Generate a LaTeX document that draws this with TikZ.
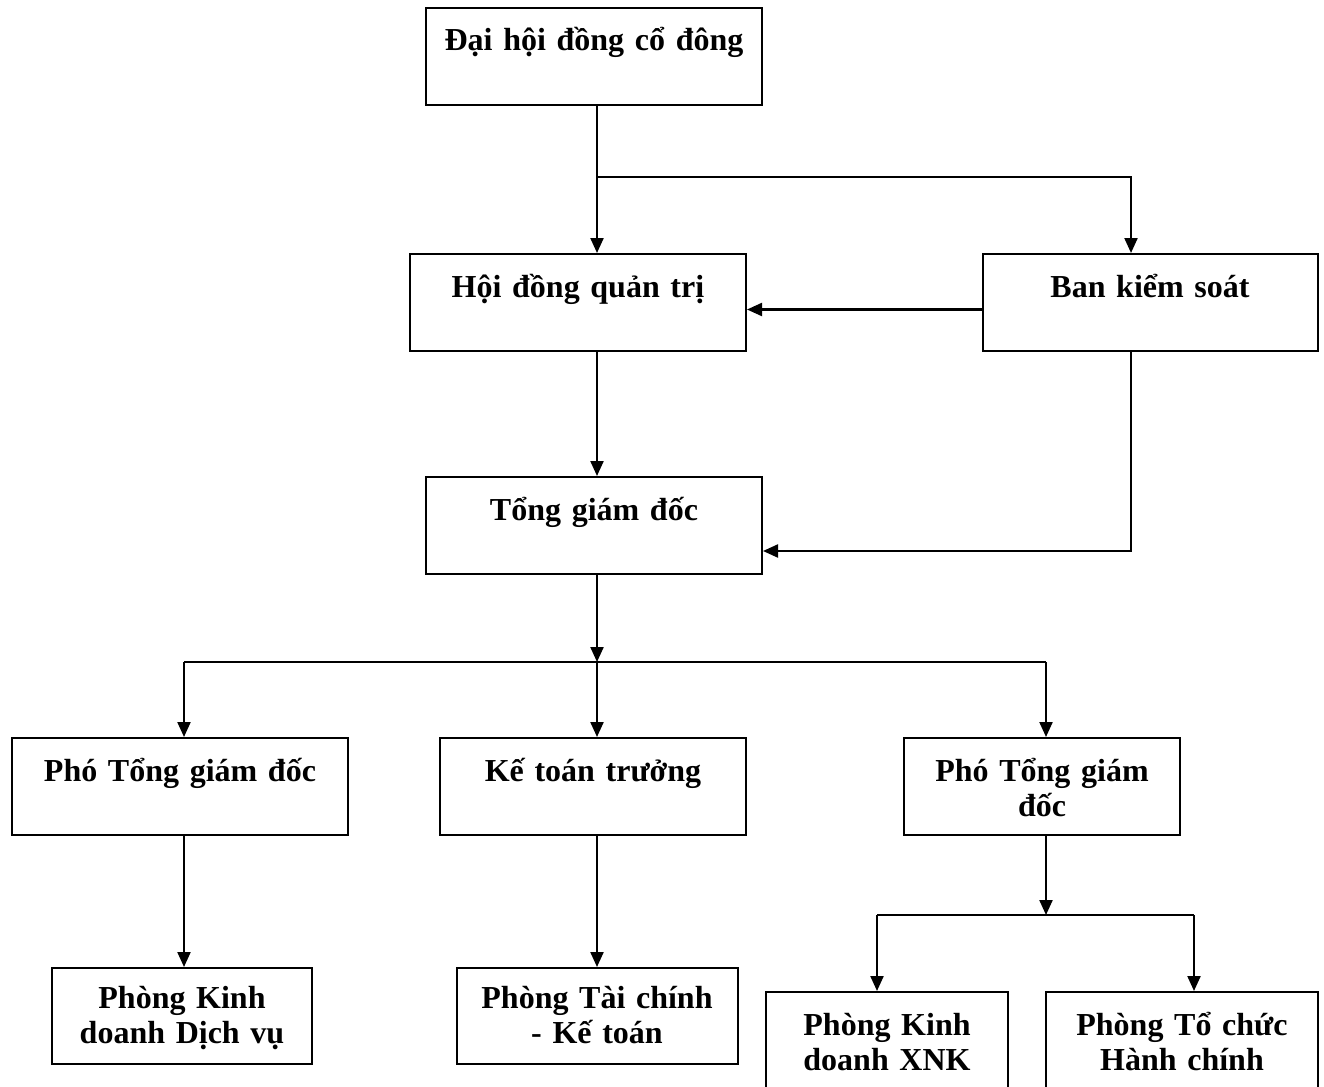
\documentclass[tikz,border=0pt]{standalone}
\usepackage{fontspec}
\setmainfont[WordSpace=0.85]{Liberation Serif}
\usepackage{tikz}
\usetikzlibrary{arrows.meta,calc,positioning}
\tikzset{
  orgbox/.style  = {draw, line width=2pt, anchor=north, inner sep=0pt,
                    align=center, text height=43pt, text depth=54pt,
                    font=\bfseries\fontsize{32}{35}\selectfont},
  link/.style    = {line width=2.2pt},
  arr/.style     = {link, -{Triangle[length=15pt,width=13pt]}},
}

\begin{document}
\begin{tikzpicture}[x=1pt, y=-1pt]
  \useasboundingbox (0,0) rectangle (1324,1086);
  % boxes
  \node[orgbox, minimum width=336pt, text width=330pt] (dhdcd) at (594, 7)   {Đại hội đồng cổ đông};
  \node[orgbox, minimum width=336pt, text width=330pt] (hdqt)  at (578, 253) {Hội đồng quản trị};
  \node[orgbox, minimum width=335pt, text width=330pt] (bks)   at (1150, 253) {Ban kiểm soát};
  \node[orgbox, minimum width=336pt, text width=330pt] (tgd)   at (594, 476) {Tổng giám đốc};
  \node[orgbox, minimum width=336pt, text width=330pt] (ptgda) at (180, 737) {Phó Tổng giám đốc};
  \node[orgbox, minimum width=306pt, text width=300pt] (ktt)   at (593, 737) {Kế toán trưởng};
  \node[orgbox, minimum width=276pt, text width=270pt] (ptgdb) at (1042, 737) {Phó Tổng giám\\đốc};
  \node[orgbox, minimum width=260pt, text width=254pt, text height=40pt, text depth=56pt] (pkddv) at (182, 967) {Phòng Kinh\\doanh Dịch vụ};
  \node[orgbox, minimum width=281pt, text width=275pt, text height=40pt, text depth=56pt] (ptckt) at (597, 967) {Phòng Tài chính\\- Kế toán};
  \node[orgbox, minimum width=242pt, text width=236pt] (pkdx)  at (887, 991) {Phòng Kinh\\doanh XNK};
  \node[orgbox, minimum width=272pt, text width=266pt] (ptchc) at (1182, 991) {Phòng Tổ chức\\Hành chính};

  % connector columns and joints
  \coordinate (xa) at (184, 0);
  \coordinate (xb) at (597, 0);
  \coordinate (xc) at (1046, 0);
  \coordinate (xd) at (1131, 0);
  \coordinate (xe) at (877, 0);
  \coordinate (xf) at (1194, 0);
  \coordinate (j1) at (597, 177);
  \coordinate (j2) at (1131, 551);
  \coordinate (j3) at (597, 662);
  \coordinate (j4) at (1046, 915);

  \draw[arr] (dhdcd.south -| xb) -- (hdqt.north -| xb);
  \draw[arr] (j1) -| (bks.north -| xd);
  \draw[arr] ([yshift=-7pt]bks.west) -- ([yshift=-7pt]hdqt.east);
  \draw[arr] (hdqt.south -| xb) -- (tgd.north -| xb);
  \draw[arr] (bks.south -| xd) -- (j2) -- (tgd.east |- j2);

  \draw[arr] (tgd.south -| xb) -- (j3);
  \draw[link] (j3 -| xa) -- (j3 -| xc);
  \foreach \n/\x in {ptgda/xa, ktt/xb, ptgdb/xc}
    \draw[arr] (j3 -| \x) -- (\n.north -| \x);

  \draw[arr] (ptgda.south -| xa) -- (pkddv.north -| xa);
  \draw[arr] (ktt.south -| xb) -- (ptckt.north -| xb);

  \draw[arr] (ptgdb.south -| xc) -- (j4);
  \draw[link] (j4 -| xe) -- (j4 -| xf);
  \foreach \n/\x in {pkdx/xe, ptchc/xf}
    \draw[arr] (j4 -| \x) -- (\n.north -| \x);
\end{tikzpicture}
\end{document}
